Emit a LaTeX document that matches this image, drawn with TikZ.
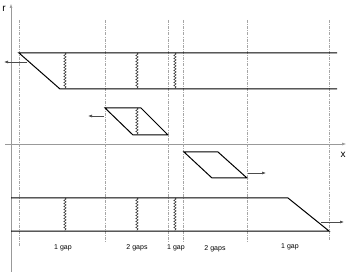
\documentclass[tikz,border=0pt]{standalone}
\usepackage{fontspec}
\setmainfont{Liberation Sans}
\usetikzlibrary{arrows.meta,decorations.pathmorphing}
\begin{document}
\begin{tikzpicture}[x=1pt,y=-1pt,
  axis/.style={draw=gray!80,line width=0.5pt},
  guide/.style={draw=gray!70,line width=0.5pt,dash pattern=on 3pt off 1.2pt on 0.8pt off 1.2pt},
  band/.style={draw=black,line width=1pt,line join=miter},
  wave/.style={draw=black,line width=0.4pt,decorate,decoration={snake,segment length=3pt,amplitude=1.2pt}},
  tip/.style={-{Latex[length=4pt,width=3pt]}},
  motion/.style={draw=black!70,line width=0.6pt,tip},
  lab/.style={font=\fontsize{7}{8}\selectfont,inner sep=0pt},
  axlab/.style={font=\fontsize{10}{11}\selectfont,inner sep=0pt}]
\useasboundingbox (0,0) rectangle (350,272);
% axes
\coordinate (rb) at (11,272); \coordinate (rt) at (11,4);
\coordinate (xl) at (5,144); \coordinate (xr) at (346,144);
\draw[axis,tip] (rb) -- (rt);
\draw[axis,tip] (xl) -- (xr);
\node[axlab] (rlab) at (4,9) {r};
\node[axlab] (xlab) at (343,155) {x};
% guide lines
\foreach \gx/\ge in {19/246,105/243,168/243,183/243,247/243,329/241}{
  \draw[guide] (\gx,20) -- (\gx,\ge);
}
% top band
\coordinate (t1) at (19,53); \coordinate (t2) at (337,53);
\coordinate (t3) at (60,89); \coordinate (t4) at (337,89);
\draw[band] (t2) -- (t1) -- (t3) -- (t4);
\foreach \wx in {65,137,175}{\draw[wave] (\wx,53) -- (\wx,89);}
\coordinate (a1s) at (27,62); \coordinate (a1e) at (4,62);
\draw[motion] (a1s) -- (a1e);
% small parallelogram 1
\coordinate (p1a) at (105,108); \coordinate (p1b) at (141,108);
\coordinate (p1c) at (168,135); \coordinate (p1d) at (133,135);
\draw[band] (p1a) -- (p1b) -- (p1c) -- (p1d) -- cycle;
\draw[wave] (137,108) -- (137,135);
\coordinate (a2s) at (104,116); \coordinate (a2e) at (88,116);
\draw[motion] (a2s) -- (a2e);
% small parallelogram 2
\coordinate (p2a) at (184,152); \coordinate (p2b) at (218,152);
\coordinate (p2c) at (247,178); \coordinate (p2d) at (212,178);
\draw[band] (p2a) -- (p2b) -- (p2c) -- (p2d) -- cycle;
\coordinate (a3s) at (248,173); \coordinate (a3e) at (266,173);
\draw[motion] (a3s) -- (a3e);
% bottom band
\coordinate (b1) at (11,198); \coordinate (b2) at (288,198);
\coordinate (b3) at (329,231); \coordinate (b4) at (11,231);
\draw[band] (b1) -- (b2) -- (b3) -- (b4);
\foreach \wx in {65,137,175}{\draw[wave] (\wx,198) -- (\wx,231);}
\coordinate (a4s) at (321,222); \coordinate (a4e) at (344,222);
\draw[motion] (a4s) -- (a4e);
% labels
\node[lab] (g1) at (63,248) {1 gap};
\node[lab] (g2) at (137,248) {2 gaps};
\node[lab] (g3) at (176,248) {1 gap};
\node[lab] (g4) at (215,249) {2 gaps};
\node[lab] (g5) at (290,247) {1 gap};
\end{tikzpicture}
\end{document}
